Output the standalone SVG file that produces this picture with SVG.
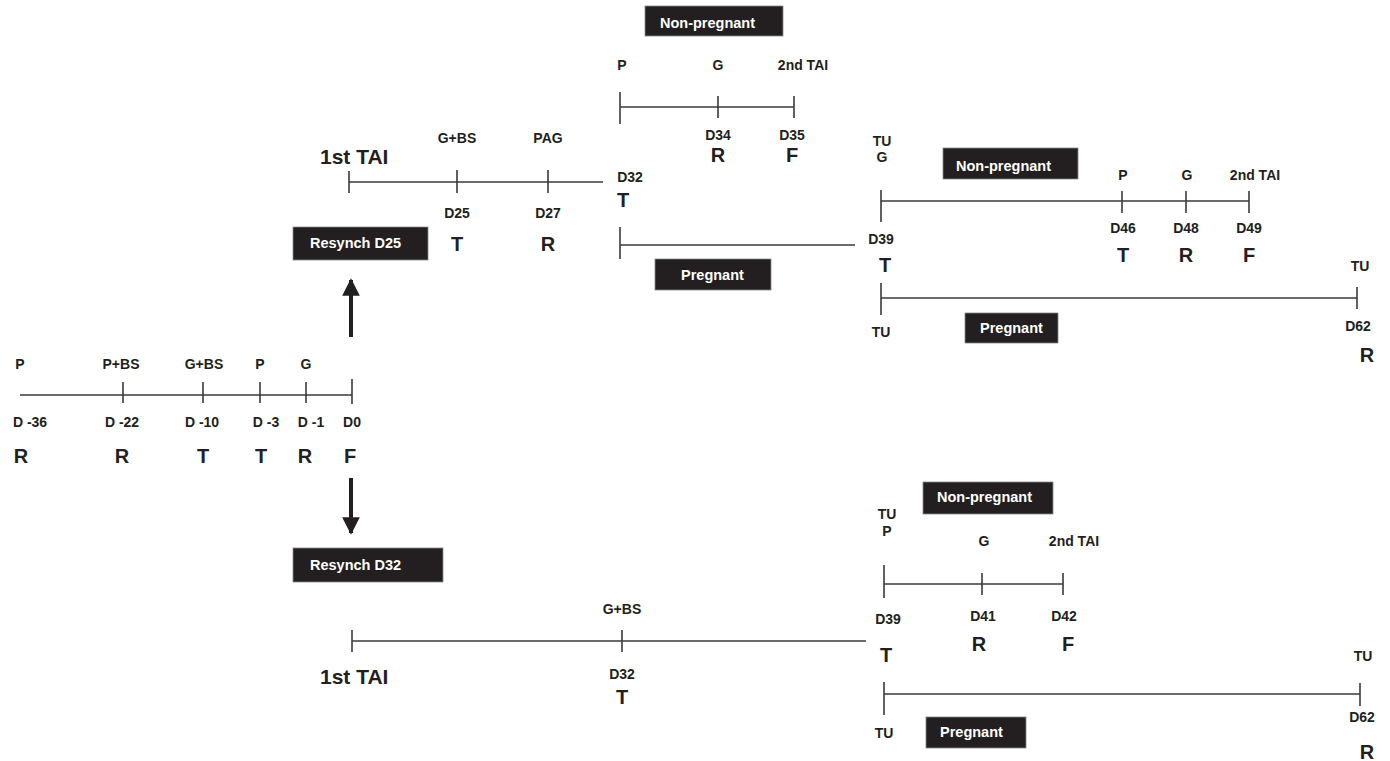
<svg xmlns="http://www.w3.org/2000/svg" width="1390" height="761" viewBox="0 0 1390 761">
<defs>
<style>
.ln{stroke:#3a3a3a;stroke-width:1.6;fill:none}
.ar{stroke:#231f20;stroke-width:4;fill:none}
.bx{fill:#231f20;stroke:#888;stroke-width:0.8}
.s{font-family:"Liberation Sans",Arial,sans-serif;font-weight:bold;font-size:14px;fill:#231f20;text-anchor:middle}
.b{font-family:"Liberation Sans",Arial,sans-serif;font-weight:bold;font-size:20px;fill:#231f20;text-anchor:middle}
.t{font-family:"Liberation Sans",Arial,sans-serif;font-weight:bold;font-size:21px;fill:#231f20}
.w{font-family:"Liberation Sans",Arial,sans-serif;font-weight:bold;font-size:14.5px;fill:#ffffff}
</style>
<marker id="ah" viewBox="0 0 10 10" refX="9" refY="5" markerWidth="4.4" markerHeight="4.4" orient="auto" markerUnits="strokeWidth">
<path d="M0,0 L10,5 L0,10 z" fill="#231f20"/>
</marker>
<clipPath id="cl"><rect x="0" y="0" width="1376" height="761"/></clipPath>
</defs>
<rect width="1390" height="761" fill="#ffffff"/>
<g clip-path="url(#cl)">
<g id="connectors">
<line class="ar" x1="351" y1="337" x2="351" y2="280" marker-end="url(#ah)"/>
<line class="ar" x1="351" y1="478" x2="351" y2="533" marker-end="url(#ah)"/>
</g>

<g id="baseline">
<line class="ln" x1="20" y1="395" x2="352" y2="395"/>
<line class="ln" x1="123" y1="382" x2="123" y2="403"/>
<line class="ln" x1="203" y1="382" x2="203" y2="403"/>
<line class="ln" x1="260" y1="382" x2="260" y2="403"/>
<line class="ln" x1="306" y1="382" x2="306" y2="403"/>
<line class="ln" x1="352" y1="379" x2="352" y2="404"/>
<text class="s" x="20" y="369">P</text>
<text class="s" x="121" y="369">P+BS</text>
<text class="s" x="204" y="369">G+BS</text>
<text class="s" x="260" y="369">P</text>
<text class="s" x="306" y="369">G</text>
<text class="s" x="30" y="427">D -36</text>
<text class="s" x="122" y="427">D -22</text>
<text class="s" x="202" y="427">D -10</text>
<text class="s" x="266" y="427">D -3</text>
<text class="s" x="311" y="427">D -1</text>
<text class="s" x="352" y="427">D0</text>
<text class="b" x="21" y="463">R</text>
<text class="b" x="122" y="463">R</text>
<text class="b" x="203" y="463">T</text>
<text class="b" x="261" y="463">T</text>
<text class="b" x="305" y="463">R</text>
<text class="b" x="350" y="463">F</text>
</g>

<g id="resynch-d25">
<rect class="bx" x="293" y="227" width="135" height="33"/>
<text class="w" x="310" y="248">Resynch D25</text>
<text class="t" x="320" y="164">1st TAI</text>
<line class="ln" x1="349" y1="182" x2="603" y2="182"/>
<line class="ln" x1="349" y1="171" x2="349" y2="193"/>
<line class="ln" x1="457" y1="170" x2="457" y2="193"/>
<line class="ln" x1="548" y1="170" x2="548" y2="193"/>
<text class="s" x="457" y="143">G+BS</text>
<text class="s" x="548" y="143">PAG</text>
<text class="s" x="457" y="218">D25</text>
<text class="s" x="548" y="218">D27</text>
<text class="b" x="457" y="251">T</text>
<text class="b" x="548" y="251">R</text>
<text class="s" x="630" y="182">D32</text>
<text class="b" x="623" y="207">T</text>
</g>

<g id="d25-nonpregnant">
<rect class="bx" x="645" y="6" width="138" height="30"/>
<text class="w" x="660" y="28">Non-pregnant</text>
<line class="ln" x1="620" y1="107" x2="794" y2="107"/>
<line class="ln" x1="620" y1="92" x2="620" y2="124"/>
<line class="ln" x1="718" y1="96" x2="718" y2="118"/>
<line class="ln" x1="794" y1="96" x2="794" y2="118"/>
<text class="s" x="622" y="70">P</text>
<text class="s" x="718" y="70">G</text>
<text class="s" x="803" y="70">2nd TAI</text>
<text class="s" x="718" y="140">D34</text>
<text class="s" x="792" y="140">D35</text>
<text class="b" x="718" y="162">R</text>
<text class="b" x="792" y="162">F</text>
</g>

<g id="d25-pregnant">
<line class="ln" x1="620" y1="227" x2="620" y2="259"/>
<line class="ln" x1="620" y1="245" x2="855" y2="245"/>
<rect class="bx" x="655" y="259" width="116" height="31"/>
<text class="w" x="681" y="280">Pregnant</text>
<text class="s" x="881" y="244">D39</text>
<text class="b" x="885" y="272">T</text>
</g>

<g id="d39-nonpregnant">
<text class="s" x="882" y="146">TU</text>
<text class="s" x="882" y="162">G</text>
<rect class="bx" x="943" y="148" width="135" height="31"/>
<text class="w" x="956" y="171">Non-pregnant</text>
<line class="ln" x1="881" y1="201" x2="1249" y2="201"/>
<line class="ln" x1="881" y1="190" x2="881" y2="222"/>
<line class="ln" x1="1122" y1="191" x2="1122" y2="213"/>
<line class="ln" x1="1186" y1="191" x2="1186" y2="213"/>
<line class="ln" x1="1249" y1="191" x2="1249" y2="213"/>
<text class="s" x="1123" y="180">P</text>
<text class="s" x="1187" y="180">G</text>
<text class="s" x="1255" y="180">2nd TAI</text>
<text class="s" x="1123" y="233">D46</text>
<text class="s" x="1186" y="233">D48</text>
<text class="s" x="1249" y="233">D49</text>
<text class="b" x="1123" y="262">T</text>
<text class="b" x="1186" y="262">R</text>
<text class="b" x="1249" y="262">F</text>
</g>

<g id="d39-pregnant">
<line class="ln" x1="881" y1="298" x2="1357" y2="298"/>
<line class="ln" x1="881" y1="283" x2="881" y2="315"/>
<line class="ln" x1="1357" y1="287" x2="1357" y2="309"/>
<text class="s" x="1360" y="271">TU</text>
<text class="s" x="881" y="337">TU</text>
<rect class="bx" x="965" y="313" width="93" height="30"/>
<text class="w" x="980" y="333">Pregnant</text>
<text class="s" x="1358" y="331">D62</text>
<text class="b" x="1367" y="362">R</text>
</g>

<g id="resynch-d32">
<rect class="bx" x="293" y="548" width="150" height="34"/>
<text class="w" x="310" y="570">Resynch D32</text>
<line class="ln" x1="352" y1="641" x2="866" y2="641"/>
<line class="ln" x1="352" y1="630" x2="352" y2="652"/>
<line class="ln" x1="622" y1="630" x2="622" y2="652"/>
<text class="s" x="622" y="614">G+BS</text>
<text class="t" x="320" y="684">1st TAI</text>
<text class="s" x="622" y="679">D32</text>
<text class="b" x="622" y="704">T</text>
</g>

<g id="d32-nonpregnant">
<rect class="bx" x="923" y="482" width="130" height="32"/>
<text class="w" x="937" y="502">Non-pregnant</text>
<text class="s" x="887" y="519">TU</text>
<text class="s" x="887" y="536">P</text>
<line class="ln" x1="884" y1="584" x2="1063" y2="584"/>
<line class="ln" x1="884" y1="565" x2="884" y2="598"/>
<line class="ln" x1="982" y1="573" x2="982" y2="595"/>
<line class="ln" x1="1063" y1="573" x2="1063" y2="595"/>
<text class="s" x="984" y="546">G</text>
<text class="s" x="1074" y="546">2nd TAI</text>
<text class="s" x="888" y="624">D39</text>
<text class="s" x="983" y="621">D41</text>
<text class="s" x="1064" y="621">D42</text>
<text class="b" x="886" y="662">T</text>
<text class="b" x="979" y="651">R</text>
<text class="b" x="1068" y="651">F</text>
</g>

<g id="d32-pregnant">
<line class="ln" x1="884" y1="694" x2="1360" y2="694"/>
<line class="ln" x1="884" y1="682" x2="884" y2="715"/>
<line class="ln" x1="1360" y1="683" x2="1360" y2="706"/>
<text class="s" x="1363" y="661">TU</text>
<text class="s" x="884" y="738">TU</text>
<rect class="bx" x="926" y="717" width="100" height="31"/>
<text class="w" x="940" y="737">Pregnant</text>
<text class="s" x="1362" y="722">D62</text>
<text class="b" x="1367" y="759">R</text>
</g>
</g>
</svg>
